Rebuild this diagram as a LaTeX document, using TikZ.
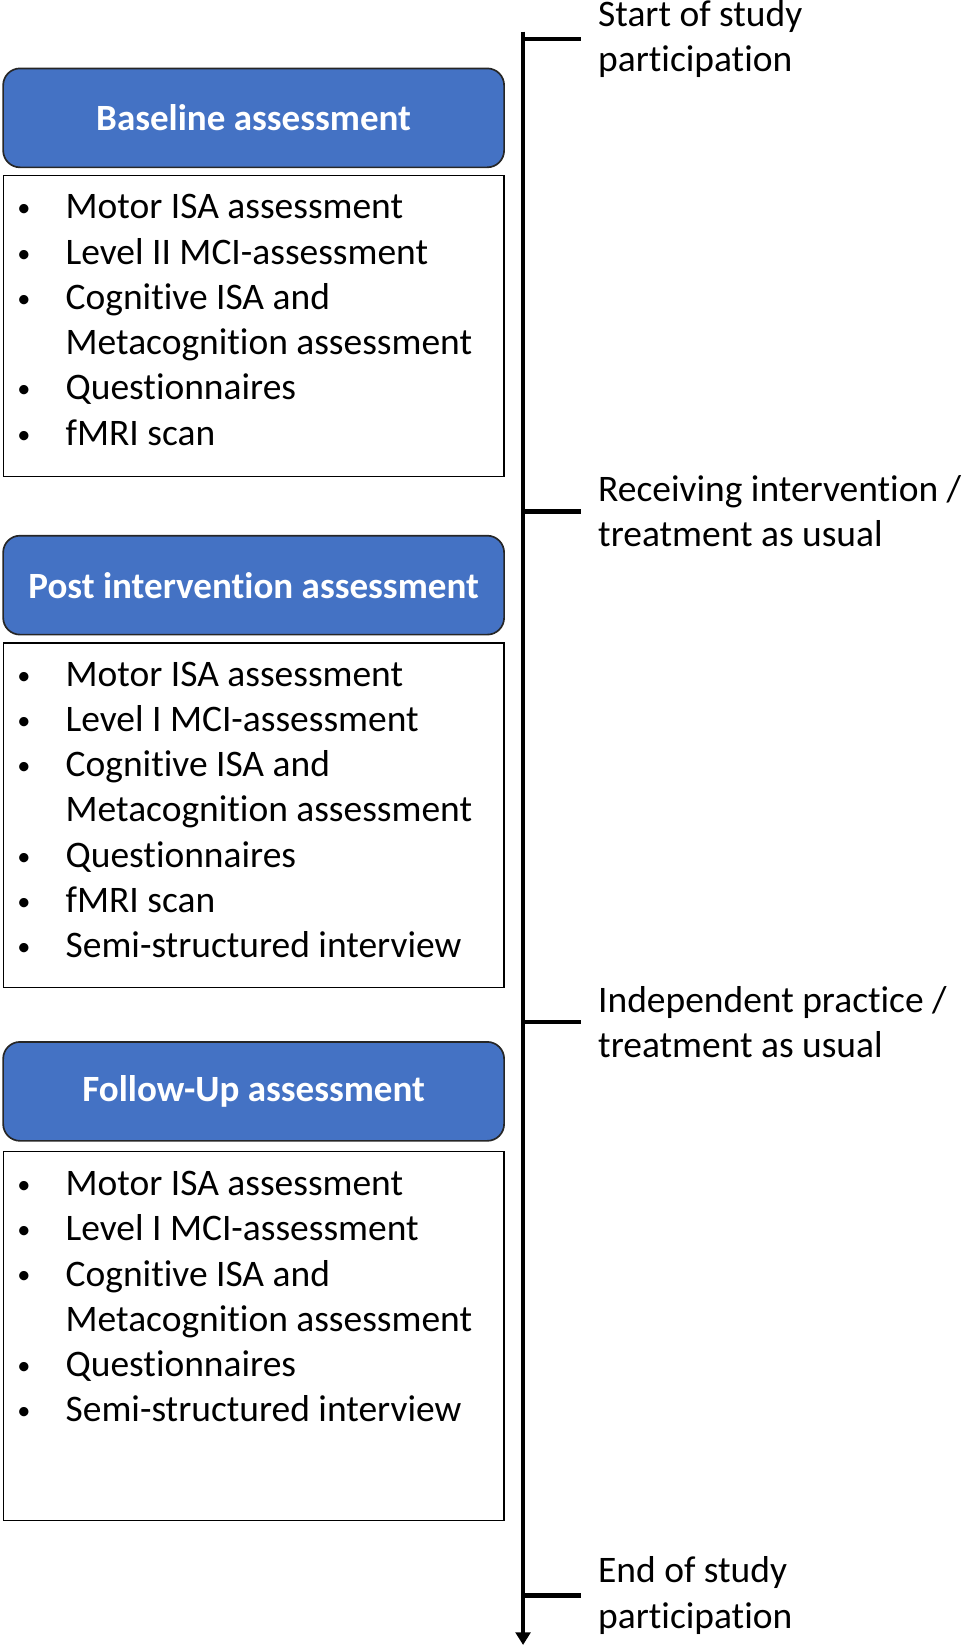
\documentclass[tikz,border=0pt]{standalone}
\usepackage{fontspec}
\setmainfont{Carlito}[Ligatures=NoCommon]
\usetikzlibrary{arrows.meta}
\definecolor{headblue}{HTML}{4472C4}
\tikzset{
  head/.style={draw=black!85, line width=0.8pt, fill=headblue, rounded corners=8pt,
    minimum width=238pt, minimum height=47pt, text=white,
    font=\bfseries\fontsize{17.6}{20}\selectfont},
  listbox/.style={draw, line width=0.6pt, minimum width=238pt},
  entry/.style={anchor=base west, inner sep=0pt, font=\fontsize{17.8}{21.5}\selectfont},
  dot/.style={anchor=base west, inner sep=0pt, font=\fontsize{12.5}{13}\selectfont},
  tick/.style={line width=2pt, shorten >=8pt},
  phase/.style={anchor=west, align=left, inner sep=0pt, font=\fontsize{17.8}{21.5}\selectfont}
}

\begin{document}
\begin{tikzpicture}[x=0.5pt,y=-0.5pt]
	\useasboundingbox (0,0) rectangle (915,1564);

	% assessment headers
	\node[head] (base) at (241,112) {Baseline assessment};
	\node[head] (post) at (241,556) {Post intervention assessment};
	\node[head] (follow) at (241,1037) {Follow-Up assessment};

	% item boxes
	\node[listbox, minimum height=143pt] (baselist) at (241,310) {};
	\node[listbox, minimum height=163.5pt] (postlist) at (241,774.5) {};
	\node[listbox, minimum height=175.5pt] (followlist) at (241,1269.5) {};

	\foreach \b/\t [count=\i from 0] in {1/Motor ISA assessment, 1/Level II MCI-assessment,
		1/Cognitive ISA and, 0/Metacognition assessment, 1/Questionnaires, 1/fMRI scan}{
		\node[entry] (baseitem\i) at (62,208+43*\i) {\t};
		\ifnum\b=1 \node[dot] (basedot\i) at (16,206+43*\i) {\textbullet}; \fi
	}
	\foreach \b/\t [count=\i from 0] in {1/Motor ISA assessment, 1/Level I MCI-assessment,
		1/Cognitive ISA and, 0/Metacognition assessment, 1/Questionnaires, 1/fMRI scan,
		1/Semi-structured interview}{
		\node[entry] (postitem\i) at (62,652+43*\i) {\t};
		\ifnum\b=1 \node[dot] (postdot\i) at (16,650+43*\i) {\textbullet}; \fi
	}
	\foreach \b/\t [count=\i from 0] in {1/Motor ISA assessment, 1/Level I MCI-assessment,
		1/Cognitive ISA and, 0/Metacognition assessment, 1/Questionnaires,
		1/Semi-structured interview}{
		\node[entry] (followitem\i) at (62,1136+43*\i) {\t};
		\ifnum\b=1 \node[dot] (followdot\i) at (16,1134+43*\i) {\textbullet}; \fi
	}

	% timeline
	\coordinate (ttop) at (497,30);
	\coordinate (tbot) at (497,1563);
	\draw[line width=2pt, -{Triangle[width=7pt,length=6pt]}] (ttop) -- (tbot);

	\node[phase] (start) at (568,37) {Start of study\\participation};
	\node[phase] (receive) at (568,486) {Receiving intervention /\\treatment as usual};
	\node[phase] (practice) at (568,971) {Independent practice /\\treatment as usual};
	\node[phase] (finish) at (568,1516) {End of study\\participation};

	\foreach \p in {start, receive, practice, finish}
		\draw[tick] (\p.west -| ttop) -- (\p.west);
\end{tikzpicture}
\end{document}
